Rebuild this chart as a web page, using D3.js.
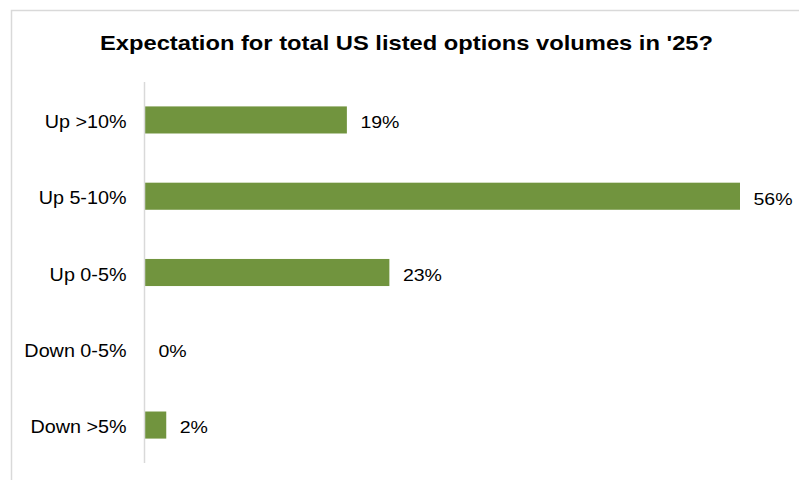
<!DOCTYPE html>
<html>
<head>
<meta charset="utf-8">
<script src="https://cdn.jsdelivr.net/npm/d3@7"></script>
<style>
  html, body { margin: 0; padding: 0; background: #fff; }
  svg { display: block; font-family: "Liberation Sans", Arial, sans-serif; }
</style>
</head>
<body>
<svg id="chart" width="799" height="480"></svg>
<script>
const categories = ["Up >10%", "Up 5-10%", "Up 0-5%", "Down 0-5%", "Down >5%"];
const values = [19, 56, 23, 0, 2];
const title = "Expectation for total US listed options volumes in '25?";

const svg = d3.select("#chart");
const W = 799, H = 480;
const SX = 1.13; // horizontal text widening

// chart frame
svg.append("rect")
  .attr("x", 11.5).attr("y", 10.5)
  .attr("width", W + 10).attr("height", H + 10)
  .attr("fill", "#fff").attr("stroke", "#d9d9d9").attr("stroke-width", 1.5);

svg.append("text")
  .attr("transform", `translate(406.5,50) scale(${SX},1)`)
  .attr("text-anchor", "middle")
  .attr("font-size", 21).attr("font-weight", "bold")
  .attr("fill", "#000")
  .text(title);

const margin = { left: 145, top: 82, bottom: 463 };

const x = d3.scaleLinear().domain([0, 56]).range([margin.left, 740]);
const y = d3.scaleBand().domain(categories)
  .range([margin.top, margin.bottom]).paddingInner(0.645).paddingOuter(0.32);

svg.selectAll("rect.bar")
  .data(values)
  .join("rect")
  .attr("class", "bar")
  .attr("x", x(0))
  .attr("y", (d, i) => y(categories[i]))
  .attr("width", d => x(d) - x(0))
  .attr("height", y.bandwidth())
  .attr("fill", "#71943e");

// value labels
svg.selectAll("text.val")
  .data(values)
  .join("text")
  .attr("class", "val")
  .attr("transform", (d, i) =>
    `translate(${x(d) + 13.5},${y(categories[i]) + y.bandwidth() / 2 + 8.3}) scale(${SX},1)`)
  .attr("font-size", 17.3)
  .attr("fill", "#000")
  .text(d => d + "%");

// category axis
const axis = svg.append("g")
  .attr("transform", `translate(${margin.left - 0.5},0)`)
  .call(d3.axisLeft(y).tickSize(0).tickPadding(0));
axis.select(".domain")
  .attr("d", `M0,${margin.top}V${margin.bottom}`)
  .attr("stroke", "#d9d9d9").attr("stroke-width", 1.5);
axis.selectAll(".tick text")
  .attr("x", null).attr("dy", null)
  .attr("transform", `translate(-18,8) scale(${SX},1)`)
  .attr("text-anchor", "end")
  .attr("font-size", 17.5)
  .attr("font-family", "Liberation Sans, Arial, sans-serif")
  .attr("fill", "#000");
</script>
</body>
</html>
